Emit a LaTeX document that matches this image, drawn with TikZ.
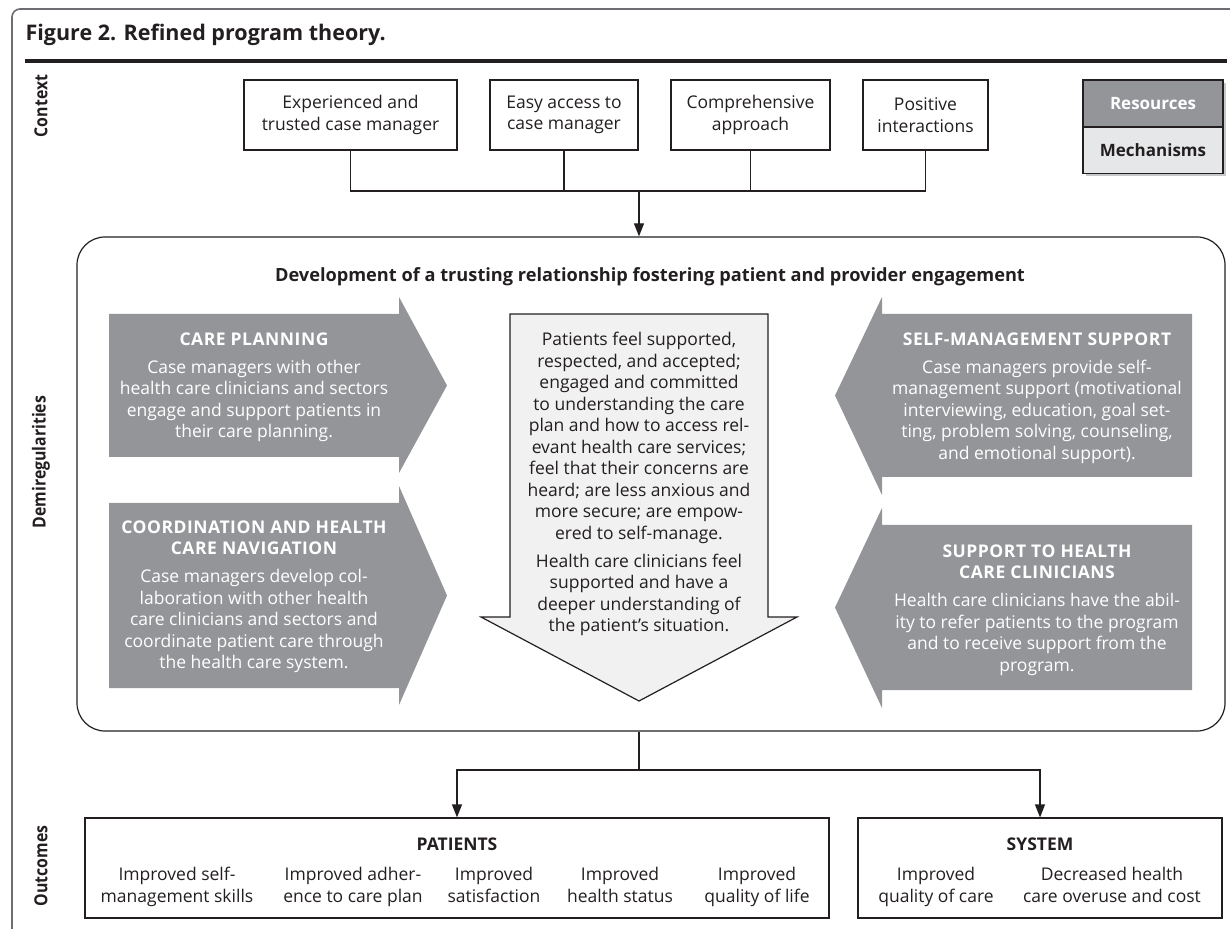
\documentclass[tikz,border=0pt]{standalone}
\usepackage{fontspec}
\setmainfont{Open Sans}
\newfontfamily\sidefont[FakeStretch=0.88]{Open Sans}
\usetikzlibrary{arrows.meta,fit}
\definecolor{arrowgray}{HTML}{939598}
\definecolor{lightfill}{HTML}{F1F1F2}
\definecolor{ink}{HTML}{231F20}
\definecolor{legendlight}{HTML}{E6E7E8}
\definecolor{framegray}{HTML}{6D6E71}
\definecolor{shadowgray}{HTML}{C7C8CA}
\newcommand\caphead[1]{{\bfseries\fontsize{8.75}{11}\selectfont\addfontfeature{LetterSpace=3}#1}}
\begin{document}
\begin{tikzpicture}[x=0.5pt,y=-0.5pt,line width=0.6pt,
  bodyfont/.style={font=\fontsize{8.75}{10.75}\selectfont},
  ctxbox/.style={draw=ink, minimum height=35pt, inner sep=0pt, align=center, text=ink, bodyfont},
  blockarrow/.style={fill=arrowgray, draw=none},
  arrowtext/.style={text=white, align=center, inner sep=0pt, anchor=north, bodyfont},
  conn/.style={draw=ink, line width=0.6pt},
  arr/.style={conn, -{Triangle[length=6.5pt,width=5pt]}},
  sidelabel/.style={rotate=90, inner sep=0pt, font=\sidefont\bfseries\fontsize{9}{11}\selectfont, text=ink},
  outbox/.style={draw=ink, inner sep=0pt, minimum height=50pt},
  outitem/.style={anchor=north, align=center, inner sep=0pt, bodyfont, text=ink},
  boldlabel/.style={anchor=base, inner sep=0pt, text=ink, font=\bfseries\fontsize{8.75}{10.75}\selectfont},
]
\useasboundingbox (0,0) rectangle (1230,929);

% frame and title
\draw[framegray, line width=0.8pt, rounded corners=4pt] (12,929) -- (12,9) -- (1230,9);
\node[anchor=base west, inner sep=0pt, text=ink, font=\bfseries\fontsize{10.75}{13}\selectfont] (title) at (25,41) {Figure 2. Refined program theory.};
\draw[ink, line width=2pt] (25,61) -- (1227,61);

% side labels
\node[sidelabel] (lctx) at (41,106) {Context};
\node[sidelabel] (ldemi) at (41,462) {Demiregularities};
\node[sidelabel] (lout) at (41,866) {Outcomes};

% context boxes
\node[ctxbox, minimum width=106.5pt] (c1) at (350.5,115) {Experienced and\\trusted case manager};
\node[ctxbox, minimum width=74pt] (c2) at (564,115) {Easy access to\\case manager};
\node[ctxbox, minimum width=79.5pt] (c3) at (750.5,115) {Comprehensive\\approach};
\node[ctxbox, minimum width=62.5pt] (c4) at (925.5,115) {Positive\\interactions};

% legend
\fill[shadowgray] (1086,83) rectangle (1226,176);
\node[draw=ink, fill=arrowgray, minimum width=70pt, minimum height=23.5pt, inner sep=0pt, text=white, font=\bfseries\fontsize{8.5}{10.75}\selectfont] (legres) at (1153,103.5) {Resources};
\node[draw=ink, fill=legendlight, minimum width=70pt, minimum height=23pt, inner sep=0pt, text=ink, font=\bfseries\fontsize{8.5}{10.75}\selectfont] (legmech) at (1153,150.5) {Mechanisms};

% main rounded box
\node[draw=ink, rounded corners=14pt, inner sep=0pt, fit={(77,237) (1225,731)}] (main) {};
\node[anchor=base, inner sep=0pt, text=ink, font=\bfseries\fontsize{9.1}{11}\selectfont] (head) at (650,282) {Development of a trusting relationship fostering patient and provider engagement};

% context connectors
\coordinate (hl) at (639,191);
\draw[conn] (c1.south) |- (c4.south |- hl) -- (c4.south);
\draw[conn] (c2.south) -- (c2.south |- hl);
\draw[conn] (c3.south) -- (c3.south |- hl);
\draw[arr] (hl) -- (hl |- main.north);

% left block arrows
\fill[blockarrow] (109,314) -- (399,314) -- (399,297) -- (447,385.5) -- (399,473) -- (399,457) -- (109,457) -- cycle;
\node[arrowtext] (cp) at (254,332) {\caphead{CARE PLANNING}\\[3.25pt]Case managers with other\\health care clinicians and sectors\\engage and support patients in\\their care planning.};
\fill[blockarrow] (109,503) -- (399,503) -- (399,486) -- (447,595.5) -- (399,705) -- (399,688) -- (109,688) -- cycle;
\node[arrowtext] (coord) at (254,520) {\caphead{COORDINATION AND HEALTH}\\\caphead{CARE NAVIGATION}\\[3.25pt]Case managers develop col-\\laboration with other health\\care clinicians and sectors and\\coordinate patient care through\\the health care system.};

% right block arrows
\fill[blockarrow] (1192,314) -- (882,314) -- (882,297) -- (835,395.5) -- (882,495) -- (882,477) -- (1192,477) -- cycle;
\node[arrowtext] (sms) at (1037,332) {\caphead{SELF-MANAGEMENT SUPPORT}\\[3.25pt]Case managers provide self-\\management support (motivational\\interviewing, education, goal set-\\ting, problem solving, counseling,\\and emotional support).};
\fill[blockarrow] (1192,525) -- (882,525) -- (882,508) -- (835,607.5) -- (882,708) -- (882,690) -- (1192,690) -- cycle;
\node[arrowtext] (shc) at (1037,544) {\caphead{SUPPORT TO HEALTH}\\\caphead{CARE CLINICIANS}\\[3.25pt]Health care clinicians have the abil-\\ity to refer patients to the program\\and to receive support from the\\program.};

% center down arrow
\filldraw[fill=lightfill, draw=ink] (510,314) -- (768,314) -- (768,617) -- (797,617) -- (639,701) -- (481,617) -- (510,617) -- cycle;
\node[anchor=north, align=center, inner sep=0pt, text=ink, bodyfont] (mech) at (639,332) {Patients feel supported,\\respected, and accepted;\\engaged and committed\\to understanding the care\\plan and how to access rel-\\evant health care services;\\feel that their concerns are\\heard; are less anxious and\\more secure; are empow-\\ered to self-manage.\\[3.25pt]Health care clinicians feel\\supported and have a\\deeper understanding of\\the patient’s situation.};

% outcomes
\node[outbox, minimum width=372pt] (pat) at (457,868) {};
\node[outbox, minimum width=182pt] (sys) at (1040,868) {};
\coordinate (bj) at (639,770);
\draw[conn] (main.south -| bj) -- (bj);
\draw[arr] (bj) -| (pat.north);
\draw[arr] (bj) -| (sys.north);

\node[boldlabel] (patl) at (457,850) {PATIENTS};
\node[boldlabel] (sysl) at (1040,850) {SYSTEM};
\node[outitem] (p1) at (177,867) {Improved self-\\management skills};
\node[outitem] (p2) at (353,867) {Improved adher-\\ence to care plan};
\node[outitem] (p3) at (494,867) {Improved\\satisfaction};
\node[outitem] (p4) at (620,867) {Improved\\health status};
\node[outitem] (p5) at (757,867) {Improved\\quality of life};
\node[outitem] (s1) at (936,867) {Improved\\quality of care};
\node[outitem] (s2) at (1112,867) {Decreased health\\care overuse and cost};
\end{tikzpicture}
\end{document}
